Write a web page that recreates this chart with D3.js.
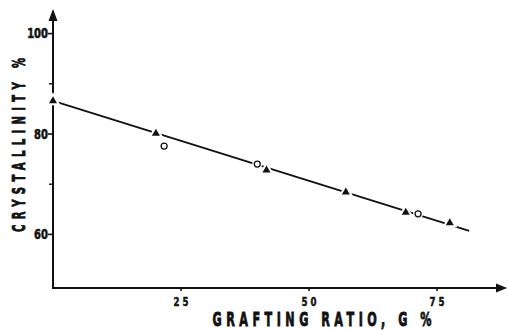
<!DOCTYPE html>
<html>
<head>
<meta charset="utf-8">
<script src="https://cdn.jsdelivr.net/npm/d3@7"></script>
<style>
  html, body { margin: 0; padding: 0; background: #fff; }
  svg { display: block; }
  .lbl { font-family: "DejaVu Sans", "Liberation Sans", sans-serif; font-weight: bold; fill: #111; stroke: #111; }
</style>
</head>
<body>
<svg id="chart" width="507" height="330"></svg>
<script>
// Grafting ratio G (%) vs crystallinity (%)
const triangleG = [0, 20.1, 41.7, 57.2, 68.9, 77.5];
const triangleC = [86.6, 80.1, 72.8, 68.4, 64.4, 62.3];
const circleG = [21.7, 39.9, 71.3];
const circleC = [77.6, 74.0, 64.1];
// straight-line fit through the points
const fitG = [0, 81.3];
const fitC = [86.6, 60.7];

const xTicks = [25, 50, 75];
const yTicks = [60, 80, 100];
const yMinorTicks = [70, 90];

const svg = d3.select("#chart");
const x = d3.scaleLinear().domain([0, 75]).range([53, 437]);
const y = d3.scaleLinear().domain([60, 100]).range([234.4, 33.6]);

const axisX0 = 53, axisY0 = 288;
const ink = "#111";

// condensed lettering: glyphs squeezed horizontally, spacing stretched to a given length
function condensed(parent, transform, str, size, squeeze, length, anchor, weight) {
  const g = parent.append("g").attr("transform", `${transform} scale(${squeeze},1)`);
  const t = g.append("text").attr("class", "lbl").attr("font-size", size)
    .attr("stroke-width", weight || 0.6)
    .attr("text-anchor", anchor || "middle").text(str);
  if (length) t.attr("textLength", length / squeeze).attr("lengthAdjust", "spacing");
  return t;
}

// axes with arrow heads
svg.append("line").attr("x1", axisX0).attr("x2", axisX0).attr("y1", axisY0 + 1).attr("y2", 18)
  .attr("stroke", ink).attr("stroke-width", 2);
svg.append("path").attr("d", `M${axisX0 - 4.5},21 L${axisX0},9 L${axisX0 + 4.5},21 Z`).attr("fill", ink);
svg.append("line").attr("x1", axisX0 - 1).attr("x2", 497).attr("y1", axisY0).attr("y2", axisY0)
  .attr("stroke", ink).attr("stroke-width", 2);
svg.append("path").attr("d", `M496,${axisY0 - 4.5} L507,${axisY0} L496,${axisY0 + 4.5} Z`).attr("fill", ink);

// y ticks and labels
svg.selectAll(".ytick").data(yTicks).join("line")
  .attr("x1", axisX0 - 5).attr("x2", axisX0).attr("y1", d => y(d)).attr("y2", d => y(d))
  .attr("stroke", ink).attr("stroke-width", 1.6);
svg.selectAll(".yminor").data(yMinorTicks).join("line")
  .attr("x1", axisX0 - 4).attr("x2", axisX0).attr("y1", d => y(d)).attr("y2", d => y(d))
  .attr("stroke", ink).attr("stroke-width", 1.4);
yTicks.forEach(d => {
  condensed(svg, `translate(${axisX0 - 5},${y(d) + 4.8})`, String(d), 13.5, 0.74, null, "end", 0.6);
});

// x ticks and labels
svg.selectAll(".xtick").data(xTicks).join("line")
  .attr("x1", d => x(d)).attr("x2", d => x(d)).attr("y1", axisY0).attr("y2", axisY0 + 3)
  .attr("stroke", ink).attr("stroke-width", 1.6);
xTicks.forEach(d => {
  condensed(svg, `translate(${x(d)},306)`, String(d), 12, 0.72, 15, "middle", 0.5);
});

// axis titles
condensed(svg, "translate(322,326)", "GRAFTING RATIO, G %", 20, 0.56, 219, "middle", 0.9);
condensed(svg, "translate(25,145) rotate(-90)", "CRYSTALLINITY %", 18, 0.56, 174, "middle", 0.85);

// fitted line
const fitData = fitG.map((g, i) => [g, fitC[i]]);
svg.append("path").datum(fitData)
  .attr("d", d3.line().x(d => x(d[0])).y(d => y(d[1])))
  .attr("fill", "none").attr("stroke", ink).attr("stroke-width", 1.6);

// markers (white halo breaks the line around each point)
const triData = triangleG.map((g, i) => [g, triangleC[i]]);
const cirData = circleG.map((g, i) => [g, circleC[i]]);
const tri = d3.symbol().type(d3.symbolTriangle).size(28);
svg.selectAll(".tri").data(triData).join("path")
  .attr("transform", d => `translate(${x(d[0])},${y(d[1])})`)
  .attr("d", tri).attr("fill", ink).attr("stroke", "#fff").attr("stroke-width", 4)
  .attr("paint-order", "stroke");
svg.selectAll(".cir").data(cirData).join("circle")
  .attr("cx", d => x(d[0])).attr("cy", d => y(d[1])).attr("r", 5)
  .attr("fill", "#fff");
svg.selectAll(".cir2").data(cirData).join("circle")
  .attr("cx", d => x(d[0])).attr("cy", d => y(d[1])).attr("r", 3)
  .attr("fill", "#fff").attr("stroke", ink).attr("stroke-width", 1.3);
</script>
</body>
</html>
